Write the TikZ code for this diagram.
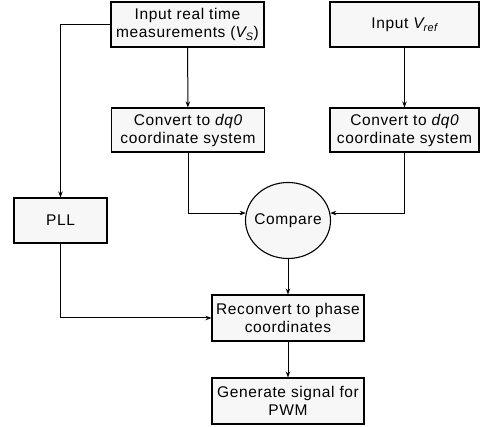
\documentclass[tikz,border=0pt]{standalone}
\usepackage{fontspec}
\setmainfont{Liberation Sans}[LetterSpace=4]
\usepackage{xcolor}
\usepackage{tikz}
\usetikzlibrary{arrows.meta}
\usetikzlibrary{shapes.geometric}
\definecolor{boxfill}{HTML}{F7F7F7}
\tikzstyle{stepbox}=[black, draw=black, line width=1.1pt, shape=rectangle, fill=boxfill, minimum width=153pt, minimum height=45pt, inner sep=1pt, align=center, font=\fontsize{15.5}{18}\selectfont]
\tikzstyle{cmpnode}=[black, draw=black, line width=1.1pt, shape=ellipse, fill=boxfill, minimum width=85pt, minimum height=76pt, inner sep=0pt, font=\fontsize{15.5}{18}\selectfont]
\tikzstyle{flow}=[-{Stealth[length=6pt, width=4.5pt]}, line width=1pt, color=black]

\begin{document}
\begin{tikzpicture}[x=1pt, y=1pt]
\useasboundingbox (0,0) rectangle (480,-427);

\node [stepbox] (meas) at (187.5,-24.5) {Input real time\\measurements ({\itshape V\textsubscript{S}})};
\node [stepbox, minimum width=149pt] (vref) at (404.5,-24.5) {Input {\itshape V\textsubscript{ref}}};
\node [stepbox, minimum height=44pt] (conv1) at (188,-130) {Convert to {\itshape dq0}\\coordinate system};
\node [stepbox, minimum width=149pt, minimum height=44pt] (conv2) at (404.5,-130) {Convert to {\itshape dq0}\\coordinate system};
\node [stepbox, minimum width=93pt] (pll) at (60.5,-220.5) {PLL};
\node [cmpnode] (cmp) at (288,-220.5) {\makebox[0pt]{Compare}};
\node [stepbox, minimum width=152pt, minimum height=46pt] (reconv) at (288,-318) {Reconvert to phase\\coordinates};
\node [stepbox, minimum width=152pt, minimum height=46pt] (gen) at (288,-401) {Generate signal for\\PWM};

\draw[flow] (meas) -- (conv1);
\draw[flow] (vref) -- (conv2);
\draw[flow] (meas.west) -| (pll.north);
\draw[flow] (conv1.south) |- (cmp.170);
\draw[flow] (conv2.south) |- (cmp.10);
\draw[flow] (cmp) -- (reconv);
\draw[flow] (pll.south) |- (reconv.west);
\draw[flow] (reconv) -- (gen);
\end{tikzpicture}
\end{document}
